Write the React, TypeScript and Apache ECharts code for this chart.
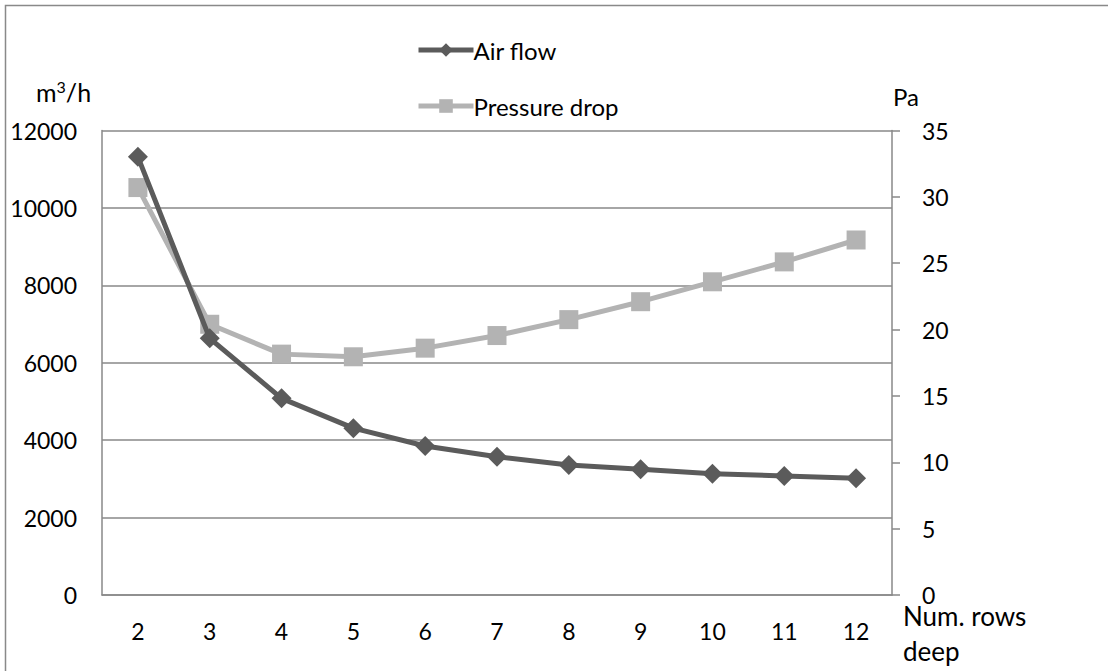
import React, { useEffect, useRef } from "react";
import * as echarts from "echarts";

const categories = ["2", "3", "4", "5", "6", "7", "8", "9", "10", "11", "12"];
const airFlow = [11320, 6630, 5080, 4310, 3850, 3570, 3360, 3250, 3130, 3075, 3015];
const pressureDrop = [30.7, 20.4, 18.15, 17.95, 18.6, 19.55, 20.75, 22.1, 23.6, 25.1, 26.75];
const leftTicks = { min: 0, max: 12000, interval: 2000 };
const rightTicks = { min: 0, max: 35, interval: 5 };

const FONT = "Lato";
const DARK = "#5b5b5b";
const LIGHT = "#b3b3b3";
const GRID = "#898989";

export default function App() {
  const ref = useRef<HTMLDivElement>(null);
  useEffect(() => {
    if (!ref.current) return;
    const chart = echarts.init(ref.current, null, { renderer: "svg" });
    chart.setOption({
      animation: false,
      backgroundColor: "#ffffff",
      textStyle: { fontFamily: FONT },
      grid: { left: 102, right: 216, top: 130.5, bottom: 76 },
      legend: {
        orient: "vertical",
        left: 411,
        top: 33,
        itemWidth: 55,
        itemHeight: 17,
        itemGap: 32,
        lineStyle: { width: 5 },
        textStyle: { fontFamily: FONT, fontSize: 24, color: "#000", padding: [0, 0, 0, -5] },
        data: ["Air flow", "Pressure drop"],
      },
      xAxis: {
        type: "category",
        data: categories,
        boundaryGap: true,
        axisLine: { show: true, lineStyle: { color: GRID, width: 1.5 } },
        axisTick: { show: false },
        axisLabel: { color: "#000", fontSize: 23, fontFamily: FONT, margin: 24 },
        splitLine: { show: false },
      },
      yAxis: [
        {
          type: "value",
          min: leftTicks.min,
          max: leftTicks.max,
          interval: leftTicks.interval,
          axisLine: { show: true, lineStyle: { color: GRID, width: 1.5 } },
          axisTick: { show: false },
          axisLabel: {
            color: "#000",
            fontSize: 23,
            fontFamily: FONT,
            margin: 25,
            formatter: (v: number) => String(v),
          },
          splitLine: { show: true, lineStyle: { color: GRID, width: 1.5 } },
        },
        {
          type: "value",
          position: "right",
          min: rightTicks.min,
          max: rightTicks.max,
          interval: rightTicks.interval,
          axisLine: { show: true, lineStyle: { color: GRID, width: 1.5 } },
          axisTick: { show: true, inside: false, length: 8, lineStyle: { color: GRID, width: 1.5 } },
          axisLabel: { color: "#000", fontSize: 23, fontFamily: FONT, margin: 30 },
          splitLine: { show: false },
        },
      ],
      series: [
        {
          name: "Pressure drop",
          type: "line",
          yAxisIndex: 1,
          data: pressureDrop,
          symbol: "rect",
          symbolSize: 19,
          lineStyle: { color: LIGHT, width: 5 },
          itemStyle: { color: LIGHT },
          z: 2,
        },
        {
          name: "Air flow",
          type: "line",
          yAxisIndex: 0,
          data: airFlow,
          symbol: "diamond",
          symbolSize: 20,
          lineStyle: { color: DARK, width: 5 },
          itemStyle: { color: DARK },
          z: 3,
        },
      ],
      graphic: [
        {
          type: "rect",
          shape: { x: 5.5, y: 5.5, width: 1300, height: 900 },
          style: { fill: "none", stroke: GRID, lineWidth: 1.5 },
          silent: true,
          z: -1,
        },
        {
          type: "text",
          x: 36,
          y: 78,
          style: {
            text: "{m|m}{s|3}{m|/h}",
            fill: "#000",
            rich: {
              m: { fontFamily: FONT, fontSize: 25, lineHeight: 26, verticalAlign: "bottom" },
              s: { fontFamily: FONT, fontSize: 16, lineHeight: 26, verticalAlign: "top" },
            },
          },
        },
        {
          type: "text",
          x: 893,
          y: 96,
          style: { text: "Pa", font: `24px ${FONT}`, fill: "#000", textVerticalAlign: "middle" },
        },
        {
          type: "text",
          x: 903,
          y: 598,
          style: {
            text: "Num. rows\ndeep",
            font: `26px ${FONT}`,
            fill: "#000",
            lineHeight: 35,
          },
        },
      ],
    });
    return () => chart.dispose();
  }, []);
  return (
    <div
      ref={ref}
      style={{ position: "absolute", left: 0, top: 0, width: 1108, height: 671 }}
    />
  );
}
